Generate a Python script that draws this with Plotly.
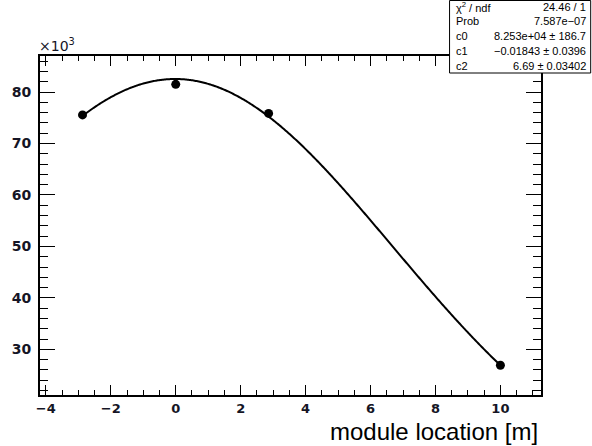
import numpy as np
import plotly.graph_objects as go

# data points
x_pos = [-2.87, 0.0, 2.86, 10.0]
y_counts = [75550, 81500, 75850, 26900]

# gaussian fit parameters (from stats box)
c0 = 82530.0
c1 = -0.01843
c2 = 6.69
fit_range = [-2.87, 10.0]

stat_labels = ["χ<sup>2</sup> / ndf", "Prob", "c0", "c1", "c2"]
stat_values = ["24.46 / 1", "7.587e\u221207", "8.253e+04 \u00b1 186.7",
               "\u22120.01843 \u00b1 0.0396", "6.69 \u00b1 0.03402"]

y_tickvals = [30000, 40000, 50000, 60000, 70000, 80000]
y_ticktext = ["30", "40", "50", "60", "70", "80"]
x_tickvals = [-4, -2, 0, 2, 4, 6, 8, 10]
x_ticktext = ["\u22124", "\u22122", "0", "2", "4", "6", "8", "10"]

xf = np.linspace(fit_range[0], fit_range[1], 400)
yf = c0 * np.exp(-0.5 * ((xf - c1) / c2) ** 2)

W, H = 592, 446
L, R, T, B = 37, 51, 56, 51
pw, ph = W - L - R, H - T - B

def px(xp):
    return (xp - L) / pw

def py(yp):
    return (H - B - yp) / ph

fig = go.Figure()
fig.add_trace(go.Scatter(x=xf, y=yf, mode="lines",
                         line=dict(color="black", width=2, simplify=False),
                         hoverinfo="skip"))
fig.add_trace(go.Scatter(x=x_pos, y=y_counts, mode="markers",
                         marker=dict(color="black", size=9)))

lab_color = "#151525"
fig.update_xaxes(range=[-4.18, 11.25], tickvals=x_tickvals, ticktext=x_ticktext,
                 ticks="inside", ticklen=10, tickwidth=1, tickcolor="black",
                 showline=True, linewidth=2, linecolor="black", mirror="ticks",
                 showgrid=False, zeroline=False,
                 tickfont=dict(family="DejaVu Sans", size=13, color=lab_color, weight="bold"),
                 minor=dict(dtick=0.5, tick0=0, ticks="inside", ticklen=5,
                            tickwidth=1, tickcolor="black", showgrid=False))
fig.update_yaxes(range=[21130, 87000], tickvals=y_tickvals, ticktext=y_ticktext,
                 ticks="inside", ticklen=15, tickwidth=1, tickcolor="black",
                 showline=True, linewidth=2, linecolor="black", mirror="ticks",
                 showgrid=False, zeroline=False, ticklabelstandoff=4,
                 tickfont=dict(family="DejaVu Sans", size=14, color=lab_color, weight="bold"),
                 minor=dict(dtick=2000, tick0=0, ticks="inside", ticklen=8,
                            tickwidth=1, tickcolor="black", showgrid=False))

annotations = []
annotations.append(dict(x=px(540), y=py(431), xref="paper", yref="paper",
                        text="module location [m]", showarrow=False,
                        xanchor="right", yanchor="middle",
                        font=dict(family="Liberation Sans", size=24, color="black")))
annotations.append(dict(x=px(34), y=py(45), xref="paper", yref="paper",
                        text="\u00d710<sup>3</sup>", showarrow=False,
                        xanchor="left", yanchor="middle",
                        font=dict(family="DejaVu Sans", size=14, color=lab_color)))

box_x0, box_x1, box_y0, box_y1 = 449, 591, 0.5, 73
shapes = [dict(type="rect", xref="paper", yref="paper",
               x0=px(box_x0), x1=px(box_x1), y0=py(box_y1), y1=py(box_y0),
               line=dict(color="black", width=1), fillcolor="white", layer="above")]
row_y = [7, 21, 36, 51, 66]
for lab, val, yy in zip(stat_labels, stat_values, row_y):
    annotations.append(dict(x=px(453), y=py(yy), xref="paper", yref="paper",
                            text=lab, showarrow=False, xanchor="left", yanchor="middle",
                            font=dict(family="Liberation Sans", size=11, color="black")))
    annotations.append(dict(x=px(588), y=py(yy), xref="paper", yref="paper",
                            text=val, showarrow=False, xanchor="right", yanchor="middle",
                            font=dict(family="Liberation Sans", size=11, color="black")))

fig.update_layout(width=W, height=H, margin=dict(l=L, r=R, t=T, b=B),
                  plot_bgcolor="white", paper_bgcolor="white", showlegend=False,
                  annotations=annotations, shapes=shapes)
fig.write_html("out.html", config={"displayModeBar": False},
               post_script="document.body.style.margin='0';document.body.style.padding='0';")
